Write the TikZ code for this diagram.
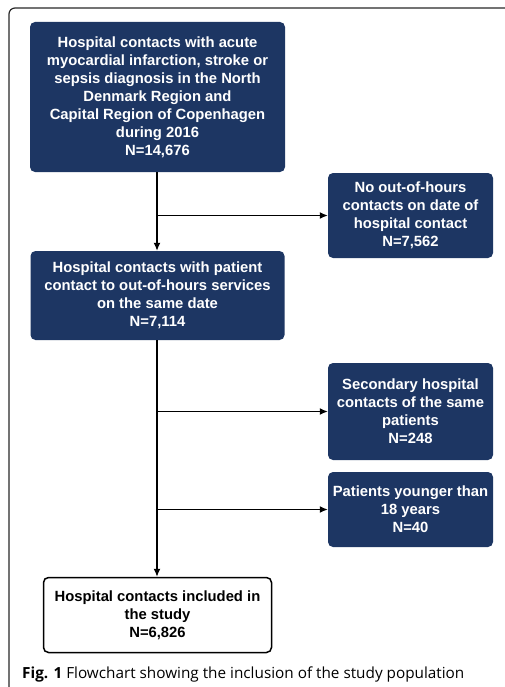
\documentclass[tikz,border=0pt]{standalone}
\usepackage{fontspec}
\setmainfont{Liberation Sans}
\newfontfamily\capfont{Open Sans}
\usepackage{tikz}
\usetikzlibrary{calc,arrows.meta}
\definecolor{navy}{RGB}{29,54,99}
\definecolor{framegray}{RGB}{40,40,40}

\begin{document}
\begin{tikzpicture}[x=1pt, y=-1pt,
		box/.style={rectangle, rounded corners=5pt, fill=navy, text=white,
			font=\fontsize{14.8}{18}\selectfont\bfseries, align=center,
			inner sep=0pt, anchor=center},
		endbox/.style={box, fill=white, text=black, draw=black, line width=1.5pt},
		flow/.style={line width=1.3pt, -{Latex[length=8pt,width=7pt]}}]
			\useasboundingbox (0,0) rectangle (504,687);

			% Frame
			\draw[framegray, line width=1.2pt, rounded corners=6pt] (9,690) -- (9,8) -- (510,8);

			\node[box, minimum width=255pt, minimum height=150pt] (all) at (157.5,97) {
				Hospital contacts with acute\\
				myocardial infarction, stroke or\\
				sepsis diagnosis in the North\\
				Denmark Region and\\
				Capital Region of Copenhagen\\
				during 2016\\
				N=14,676};
			\node[box, minimum width=165pt, minimum height=85pt] (noooh) at (410.5,215.5) {
				No out-of-hours\\
				contacts on date of\\
				hospital contact\\
				N=7,562};
			\node[box, minimum width=254pt, minimum height=89pt] (ooh) at (157.5,295.5) {
				Hospital contacts with patient\\
				contact to out-of-hours services\\
				on the same date\\
				N=7,114};
			\node[box, minimum width=165pt, minimum height=97pt] (second) at (410.5,411.5) {
				Secondary hospital\\
				contacts of the same\\
				patients\\
				N=248};
			\node[box, minimum width=165pt, minimum height=75pt] (young) at (410.5,509.5) {
				Patients younger than\\
				18 years\\
				N=40};
			\node[endbox, minimum width=228pt, minimum height=75pt] (incl) at (157.5,615) {
				Hospital contacts included in\\
				the study\\
				N=6,826};

			% Arrows
			\draw[flow] (all.south -| 157,0) -- (ooh.north -| 157,0);
			\draw[flow] (all.south -| 157,0) |- (noooh.west);
			\draw[flow] (ooh.south -| 157,0) -- (incl.north -| 157,0);
			\draw[flow] (ooh.south -| 157,0) |- (second.west);
			\draw[flow] (ooh.south -| 157,0) |- (young.west);

			\node[anchor=base west, inner sep=0pt, font=\capfont\fontsize{15.3}{18}\selectfont] (cap) at (22,678)
				{\textbf{Fig. 1} Flowchart showing the inclusion of the study population};
		\end{tikzpicture}
\end{document}
